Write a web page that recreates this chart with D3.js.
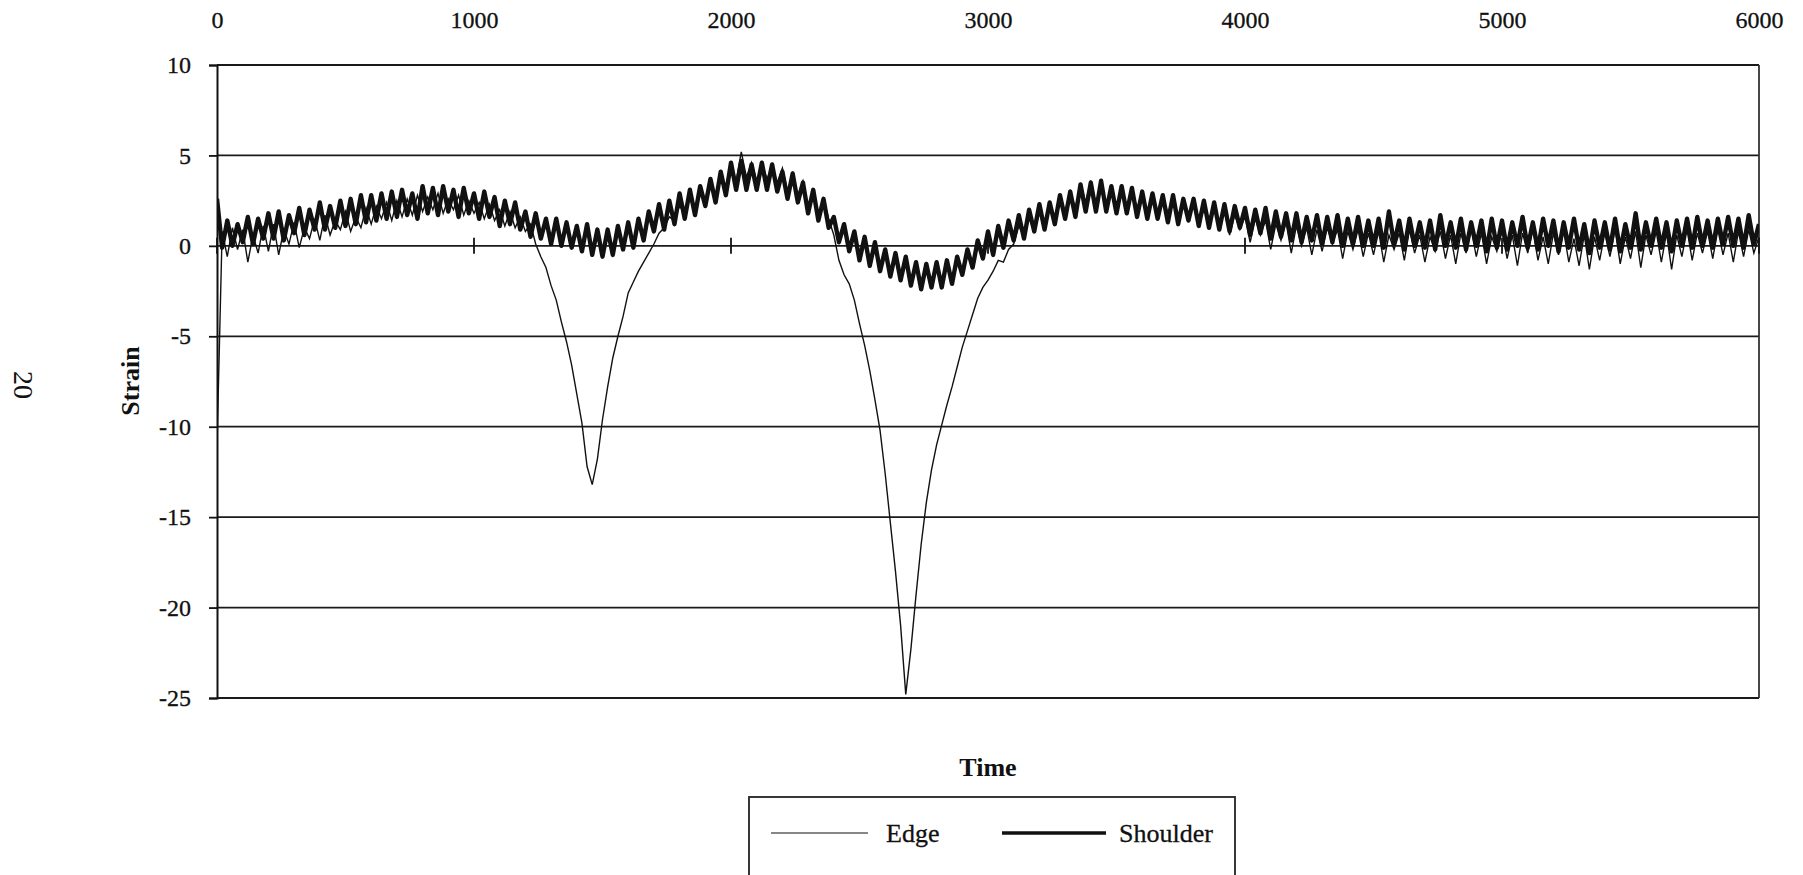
<!DOCTYPE html>
<html>
<head>
<meta charset="utf-8">
<script src="https://cdn.jsdelivr.net/npm/d3@7"></script>
<style>
  body { margin: 0; background: #fff; }
  text { font-family: "Liberation Serif", "Times New Roman", serif; fill: #111; }
</style>
</head>
<body>
<svg id="main-vis"></svg>
<script>
// sample spacing of both records (time units)
const timeStart = 0;
const timeStep = 20;

// Edge strain, one value per 20 time units
const edgeValues = [
  -11, 0.8, -0.6, 1.0, -0.2,   0.9, -0.9, 0.6, -0.4, 1.1,   -0.3, 1.2, -0.5, 0.9, 0.1,
  1.3, -0.1, 1.0, 0.4, 1.5,    0.3, 1.7, 0.6, 1.4, 0.9,     1.9, 0.8, 1.6, 1.0, 2.1,
  1.2, 2.2, 1.5, 2.4, 1.4,     2.5, 1.6, 2.6, 1.7, 2.8,     1.9, 2.7, 2.0, 2.9, 1.8,
  2.6, 2.0, 2.8, 1.7, 2.5,     1.8, 2.4, 1.5, 2.3, 1.4,     2.0, 1.1, 1.9, 1.0, 1.6,
  0.8, 1.2, 0.1, -0.6, -1.2,   -2.2, -3.0, -4.2, -5.3, -6.6, -8.2, -9.8, -12.2, -13.2, -11.8,
  -9.6, -7.8, -6.2, -5.0, -3.9, -2.6, -2.0, -1.4, -0.9, -0.4, 0.1, 0.7, 1.0, 1.6, 1.4,
  2.2, 1.8, 2.6, 2.1, 2.9,     2.5, 3.3, 2.8, 3.8, 3.2,     4.5, 3.6, 5.2, 3.8, 4.6,
  3.6, 4.6, 3.7, 4.4, 3.5,     4.3, 3.0, 4.0, 2.8, 3.6,     2.2, 3.0, 1.8, 2.6, 1.5,
  0.6, -0.8, -1.6, -2.1, -3.0, -4.3, -5.5, -6.9, -8.5, -10.2, -12.6, -15.3, -18.0, -21.0, -24.8,
  -22.3, -19.3, -16.5, -14.2, -12.4, -11.0, -9.9, -8.8, -7.8, -6.7, -5.6, -4.7, -3.8, -2.9, -2.3,
  -1.9, -1.4, -0.8, -0.9, -0.2, 0.1, 1.1, 0.5, 1.5, 0.8,   1.8, 1.0, 2.2, 1.6, 2.6,
  1.9, 3.0, 2.1, 3.4, 2.4,     3.6, 2.3, 3.5, 2.0, 3.2,     2.2, 3.3, 1.9, 3.1, 2.1,
  2.9, 1.6, 2.8, 1.9, 2.7,     1.8, 2.6, 1.4, 2.5, 1.7,     2.4, 1.2, 2.0, 1.5, 2.2,
  1.0, 1.9, 0.6, 1.7, 0.9,     1.6, 0.2, 1.5, 0.6, 1.4,     -0.2, 1.2, 0.3, 1.3, -0.4,
  1.1, 0.0, 1.0, -0.5, 0.9,    -0.3, 1.0, 0.1, 0.9, -0.7,   0.8, -0.2, 0.9, -0.6, 0.7,
  -0.5, 0.8, -0.9, 0.6, -0.2,  0.7, -0.8, 0.9, -0.4, 0.6,   -0.9, 0.5, -0.3, 0.8, -0.7,
  0.6, -1.0, 0.7, -0.4, 0.9,   -0.6, 0.7, -1.0, 0.5, -0.3,  0.8, -0.7, 0.6, -1.1, 0.7,
  -0.4, 0.9, -0.8, 0.5, -1.0,  0.7, -0.5, 0.8, -0.9, 0.4,   -1.1, 0.6, -1.3, 0.5, -0.8,
  0.7, -0.6, 0.9, -1.0, 0.5,   -0.7, 0.8, -1.2, 0.6, -0.5,  0.8, -0.9, 0.7, -1.3, 0.6,
  -0.6, 0.9, -0.8, 0.7, -0.4,  0.8, -0.7, 0.9, -0.5, 0.7,   -0.9, 0.8, -0.6, 0.9, -0.4,
  0.5
];

// Shoulder strain
const shoulderValues = [
  2.6, -0.1, 1.4, 0.0, 1.2,    0.2, 1.6, 0.1, 1.5, 0.4,     1.8, 0.4, 1.9, 0.3, 1.7,
  0.7, 2.1, 0.6, 2.0, 0.9,     2.4, 0.9, 2.2, 1.0, 2.5,     1.1, 2.6, 1.2, 2.8, 1.3,
  2.8, 1.4, 2.9, 1.5, 3.0,     1.6, 3.1, 1.7, 2.9, 1.5,     3.3, 1.8, 3.2, 1.7, 3.3,
  1.9, 3.1, 1.6, 3.2, 1.8,     2.9, 1.5, 3.0, 1.6, 2.7,     1.1, 2.5, 1.2, 2.4, 0.9,
  1.9, 0.5, 1.8, 0.4, 1.5,     0.1, 1.5, 0.0, 1.3, -0.1,    1.1, -0.3, 1.2, -0.5, 0.9,
  -0.6, 0.9, -0.5, 1.1, -0.2,  1.3, -0.1, 1.5, 0.3, 1.9,    0.8, 2.3, 0.9, 2.5, 1.2,
  2.9, 1.5, 3.1, 1.7, 3.3,     2.2, 3.7, 2.4, 4.1, 2.8,     4.6, 3.1, 4.7, 3.1, 4.5,
  3.1, 4.6, 3.1, 4.5, 3.0,     4.1, 2.6, 4.0, 2.4, 3.5,     1.8, 3.1, 1.4, 2.6, 1.0,
  1.6, 0.2, 1.2, -0.3, 0.8,    -0.8, 0.5, -1.1, 0.2, -1.4,  -0.2, -1.7, -0.4, -1.9, -0.6,
  -2.2, -0.9, -2.4, -1.0, -2.3, -0.9, -2.3, -0.8, -2.1, -0.6, -1.6, -0.2, -1.2, 0.3, -0.7,
  0.8, -0.5, 1.1, -0.1, 1.4,   0.3, 1.7, 0.4, 2.0, 0.8,     2.3, 0.9, 2.4, 1.2, 2.8,
  1.5, 3.0, 1.6, 3.4, 1.9,     3.5, 1.9, 3.6, 1.9, 3.3,     1.8, 3.3, 1.8, 3.2, 1.6,
  3.0, 1.5, 2.9, 1.5, 2.8,     1.3, 2.8, 1.2, 2.6, 1.4,     2.6, 1.1, 2.5, 1.0, 2.4,
  0.9, 2.3, 0.8, 2.2, 1.0,     2.1, 0.6, 2.0, 0.7, 2.1,     0.4, 1.9, 0.5, 1.8, 0.3,
  1.8, 0.2, 1.6, 0.3, 1.7,     0.1, 1.6, 0.2, 1.7, 0.0,     1.5, 0.1, 1.6, 0.0, 1.4,
  0.0, 1.5, -0.1, 1.9, 0.1,    1.4, -0.2, 1.5, 0.0, 1.3,    -0.1, 1.4, -0.2, 1.7, 0.0,
  1.3, -0.1, 1.5, -0.2, 1.3,   0.0, 1.4, -0.3, 1.5, -0.1,   1.4, -0.2, 1.3, 0.0, 1.6,
  -0.1, 1.3, -0.2, 1.5, 0.0,   1.4, -0.3, 1.3, -0.1, 1.5,   -0.2, 1.2, -0.4, 1.4, -0.1,
  1.3, -0.2, 1.5, -0.3, 1.2,   -0.1, 1.8, -0.2, 1.3, 0.0,   1.5, -0.1, 1.3, -0.3, 1.4,
  0.0, 1.5, -0.1, 1.6, 0.0,    1.4, -0.1, 1.5, 0.1, 1.6,    0.0, 1.5, -0.1, 1.7, 0.1,
  1.2
];

const timeTicks = [0, 1000, 2000, 3000, 4000, 5000, 6000];
const strainTicks = [10, 5, 0, -5, -10, -15, -20, -25];
const seriesNames = ["Edge", "Shoulder"];

const width = 1803;
const height = 875;
const plot = { left: 217, right: 1759, top: 65, bottom: 698 };

const svg = d3.select("#main-vis")
  .attr("width", width)
  .attr("height", height);

const x = d3.scaleLinear().domain([0, 6000]).range([plot.left, plot.right]);
const y = d3.scaleLinear().domain([-25, 10]).range([plot.bottom, plot.top]);

// horizontal gridlines
svg.append("g")
  .selectAll("line")
  .data(strainTicks)
  .enter()
  .append("line")
  .attr("x1", plot.left)
  .attr("x2", plot.right)
  .attr("y1", d => y(d))
  .attr("y2", d => y(d))
  .attr("stroke", "#1a1a1a")
  .attr("stroke-width", 1.8);

// right border
svg.append("line")
  .attr("x1", plot.right).attr("x2", plot.right)
  .attr("y1", plot.top).attr("y2", plot.bottom)
  .attr("stroke", "#333")
  .attr("stroke-width", 1.8);

// left value axis
const yAxis = svg.append("g")
  .attr("transform", `translate(${plot.left},0)`)
  .call(d3.axisLeft(y).tickValues(strainTicks).tickSize(8).tickPadding(18).tickFormat(d => String(d)));
yAxis.select(".domain").attr("stroke", "#111").attr("stroke-width", 2);
yAxis.selectAll(".tick line").attr("stroke", "#111").attr("stroke-width", 1.8);
yAxis.selectAll("text")
  .style("font-family", "'Liberation Serif', serif")
  .style("font-size", "24px")
  .attr("fill", "#111")
  .attr("stroke", "#111")
  .attr("stroke-width", 0.3);

// time labels across the top
const xAxis = svg.append("g")
  .attr("transform", "translate(0,31)")
  .call(d3.axisTop(x).tickValues(timeTicks).tickSize(0).tickPadding(3).tickFormat(d => String(d)));
xAxis.select(".domain").remove();
xAxis.selectAll("text")
  .style("font-family", "'Liberation Serif', serif")
  .style("font-size", "24px")
  .attr("fill", "#111")
  .attr("stroke", "#111")
  .attr("stroke-width", 0.3);

// cross ticks on the zero line
svg.append("g")
  .selectAll("line")
  .data(timeTicks)
  .enter()
  .append("line")
  .attr("x1", d => x(d))
  .attr("x2", d => x(d))
  .attr("y1", y(0) - 8)
  .attr("y2", y(0) + 8)
  .attr("stroke", "#111")
  .attr("stroke-width", 1.8);

const line = d3.line()
  .x((d, i) => x(timeStart + i * timeStep))
  .y(d => y(d));

svg.append("clipPath").attr("id", "plot-clip")
  .append("rect")
  .attr("x", plot.left)
  .attr("y", plot.top)
  .attr("width", plot.right - plot.left)
  .attr("height", plot.bottom - plot.top + 2);

svg.append("path")
  .datum(edgeValues)
  .attr("clip-path", "url(#plot-clip)")
  .attr("d", line)
  .attr("fill", "none")
  .attr("stroke", "#111")
  .attr("stroke-width", 1.4);

svg.append("path")
  .datum(shoulderValues)
  .attr("clip-path", "url(#plot-clip)")
  .attr("d", line)
  .attr("fill", "none")
  .attr("stroke", "#111")
  .attr("stroke-width", 4.4)
  .attr("stroke-linejoin", "round");

// axis titles
svg.append("text")
  .attr("transform", "translate(139,381) rotate(-90)")
  .attr("text-anchor", "middle")
  .style("font-size", "26px")
  .style("font-weight", "bold")
  .text("Strain");

svg.append("text")
  .attr("x", (plot.left + plot.right) / 2)
  .attr("y", 776)
  .attr("text-anchor", "middle")
  .style("font-size", "26px")
  .style("font-weight", "bold")
  .text("Time");

// page number of the scanned sheet
svg.append("text")
  .attr("transform", "translate(14,385) rotate(90)")
  .attr("text-anchor", "middle")
  .style("font-size", "28px")
  .text("20");

// legend
const legend = svg.append("g");
legend.append("rect")
  .attr("x", 749)
  .attr("y", 797)
  .attr("width", 486)
  .attr("height", 120)
  .attr("fill", "none")
  .attr("stroke", "#222")
  .attr("stroke-width", 1.8);

const legendItems = [
  { name: seriesNames[0], x1: 771, x2: 868, tx: 886, w: 1.2 },
  { name: seriesNames[1], x1: 1002, x2: 1106, tx: 1119, w: 3.5 }
];

legend.selectAll("g")
  .data(legendItems)
  .enter()
  .append("g")
  .each(function (d) {
    const g = d3.select(this);
    g.append("line")
      .attr("x1", d.x1)
      .attr("x2", d.x2)
      .attr("y1", 833)
      .attr("y2", 833)
      .attr("stroke", "#111")
      .attr("stroke-width", d.w);
    g.append("text")
      .attr("x", d.tx)
      .attr("y", 842)
      .attr("stroke", "#111")
      .attr("stroke-width", 0.3)
      .style("font-size", "26px")
      .text(d.name);
  });
</script>
</body>
</html>
